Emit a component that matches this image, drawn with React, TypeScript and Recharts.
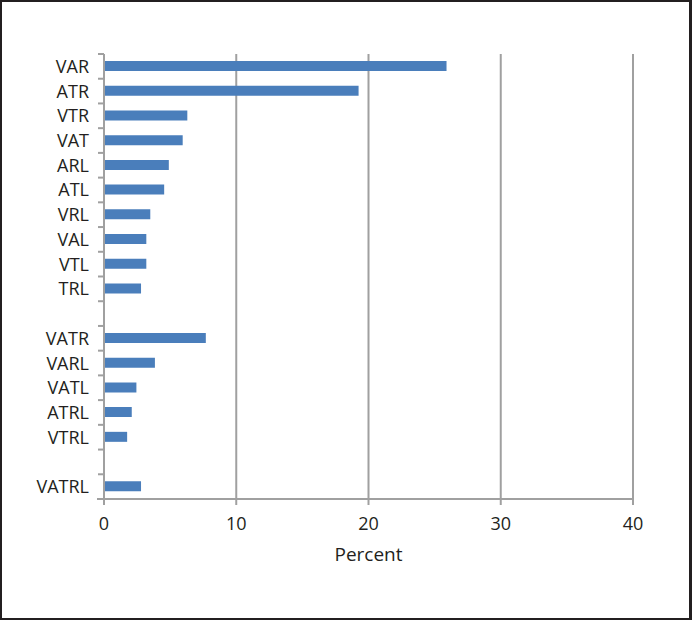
import { BarChart, Bar, XAxis, YAxis, CartesianGrid } from 'recharts';

// categories, blank entries make the gaps between the groups
const categories = [
  'VAR', 'ATR', 'VTR', 'VAT', 'ARL', 'ATL', 'VRL', 'VAL', 'VTL', 'TRL',
  ' ',
  'VATR', 'VARL', 'VATL', 'ATRL', 'VTRL',
  '  ',
  'VATRL',
];
const percents = [
  25.9, 19.25, 6.3, 5.95, 4.9, 4.55, 3.5, 3.2, 3.2, 2.8,
  null,
  7.7, 3.85, 2.45, 2.1, 1.75,
  null,
  2.8,
];
const xTicks = [0, 10, 20, 30, 40];

const data = categories.map((name, i) => ({ name, value: percents[i] }));

const W = 692;
const H = 620;
const PLOT_LEFT = 104;
const PLOT_RIGHT = 633;
const PLOT_TOP = 54;
const PLOT_BOTTOM = 499;
const BAND = (PLOT_BOTTOM - PLOT_TOP) / categories.length;

const GRAY = '#a0a0a0';
const INK = '#231f20';
const FONT = '"Open Sans", sans-serif';

const YTick = (props: any) => {
  const { y, payload, index } = props;
  const top = y - BAND / 2;
  const last = index === categories.length - 1;
  return (
    <g>
      <line x1={PLOT_LEFT - 6} x2={PLOT_LEFT} y1={top} y2={top} stroke={GRAY} strokeWidth={2} />
      {last && (
        <line x1={PLOT_LEFT - 7} x2={PLOT_LEFT} y1={y + BAND / 2} y2={y + BAND / 2} stroke={GRAY} strokeWidth={2} />
      )}
      <text
        x={PLOT_LEFT - 15}
        y={y}
        dy="0.36em"
        textAnchor="end"
        fill={INK}
        fontSize={18}
        fontFamily={FONT}
      >
        {String(payload.value).trim()}
      </text>
    </g>
  );
};

export default function App() {
  return (
    <div style={{ position: 'absolute', left: 0, top: 0, width: W, height: H, background: '#fff' }}>
      <BarChart
        width={W}
        height={H}
        data={data}
        layout="vertical"
        margin={{ top: PLOT_TOP, right: W - PLOT_RIGHT, left: 0, bottom: H - PLOT_BOTTOM - 70 }}
        barSize={10}
      >
        <CartesianGrid horizontal={false} stroke={GRAY} strokeWidth={2} />
        <XAxis
          type="number"
          domain={[0, 40]}
          ticks={xTicks}
          height={70}
          axisLine={{ stroke: GRAY, strokeWidth: 2 }}
          tickLine={{ stroke: GRAY, strokeWidth: 2 }}
          tickSize={6}
          tickMargin={12}
          tick={{ fill: INK, fontSize: 18, fontFamily: FONT }}
          label={{ value: 'Percent', position: 'insideBottom', offset: 8, fill: INK, fontSize: 19, fontFamily: FONT }}
        />
        <YAxis
          type="category"
          dataKey="name"
          width={PLOT_LEFT}
          axisLine={{ stroke: GRAY, strokeWidth: 2 }}
          tickLine={false}
          tickSize={0}
          interval={0}
          tick={<YTick />}
        />
        <Bar dataKey="value" fill="#4a7ebb" isAnimationActive={false} />
      </BarChart>
      <div
        style={{
          position: 'absolute', left: 0, top: 0, width: W, height: H,
          boxSizing: 'border-box', border: `2px solid ${INK}`, borderRightWidth: 3,
          pointerEvents: 'none',
        }}
      />
    </div>
  );
}
